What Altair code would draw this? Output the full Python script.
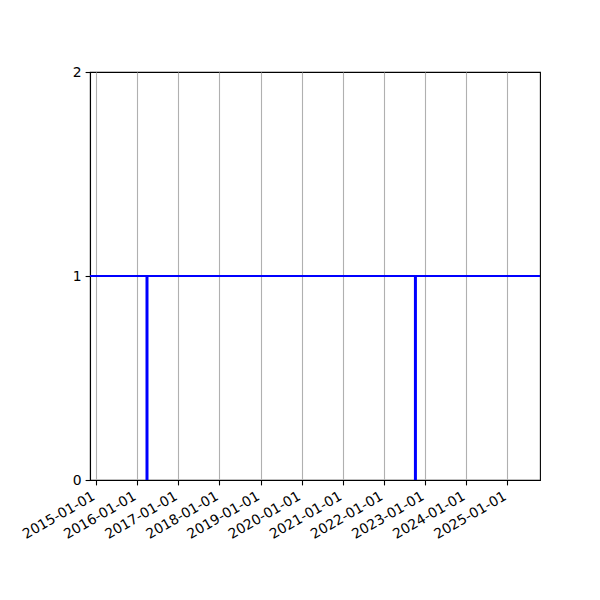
"""
Event markers on a constant level, matplotlib-like look in Altair
"""
import pandas as pd
import altair as alt

# Data
event_dates = ["2016-03-29", "2022-10-07"]
event_low = [0, 0]
event_high = [1, 1]
baseline = [1]
tick_years = [2015, 2016, 2017, 2018, 2019, 2020, 2021, 2022, 2023, 2024, 2025]
y_ticks = [0, 1, 2]

events = pd.DataFrame({"date": event_dates, "low": event_low, "high": event_high})
level = pd.DataFrame({"level": baseline})

x_scale = alt.Scale(
    type="utc",
    domain=[alt.DateTime(year=2014, month=11, date=9, utc=True),
            alt.DateTime(year=2025, month=10, date=17, utc=True)],
)
x_axis = alt.Axis(
    title=None,
    values=[alt.DateTime(year=y, month=1, date=1, utc=True) for y in tick_years],
    labelExpr="utcFormat(datum.value, '%Y-%m-%d')",
    labelAngle=-30,
    labelAlign="right",
    labelBaseline="top",
    labelOffset=-6,
    labelPadding=4,
    labelOverlap=False,
    grid=True,
    gridColor="#b0b0b0",
    gridWidth=1.1,
)
y_axis = alt.Axis(title=None, values=y_ticks, labelExpr="format(datum.value, 'd')",
                  grid=False, labelPadding=4, labelOverlap=False)

verticals = alt.Chart(events).mark_rule(color="#0000ff", strokeWidth=3).encode(
    x=alt.X("date:T", scale=x_scale, axis=x_axis),
    y=alt.Y("low:Q", scale=alt.Scale(domain=[0, 2], nice=False), axis=y_axis),
    y2="high:Q",
)

horizontal = alt.Chart(level).mark_rule(color="#0000ff", strokeWidth=2).encode(
    y=alt.Y("level:Q"),
)

chart = alt.layer(verticals, horizontal).properties(
    width=450,
    height=408,
    background="white",
    autosize=alt.AutoSizeParams(type="none"),
    padding={"left": 82, "top": 64, "right": 40, "bottom": 100},
).configure_view(
    stroke="black",
    strokeWidth=1.1,
).configure_axis(
    labelFont="DejaVu Sans",
    labelFontSize=13.9,
    labelColor="black",
    domainColor="black",
    domainWidth=1.1,
    tickColor="black",
    tickSize=4.9,
    tickWidth=1.1,
)

chart.save("out.html", embed_options={"renderer": "svg", "actions": False})
